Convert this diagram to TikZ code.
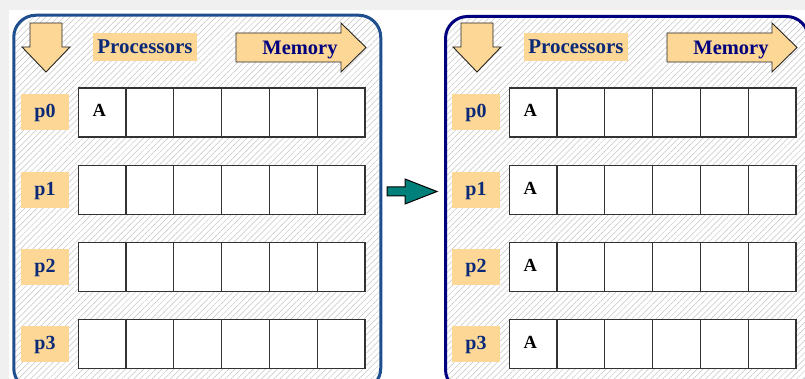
\documentclass[tikz,border=0pt]{standalone}
\usepackage{fontspec}
\setmainfont{Liberation Serif}
\usetikzlibrary{patterns.meta}
\definecolor{bggrey}{HTML}{F0F0F0}
\definecolor{lborder}{HTML}{1F4E8F}
\definecolor{rborder}{HTML}{00007F}
\definecolor{lorange}{HTML}{FDD796}
\definecolor{hatchgrey}{HTML}{C4C4C4}
\definecolor{txtblue}{HTML}{0A2A78}
\definecolor{tealfill}{HTML}{00807A}
\tikzset{
  panel/.style={draw=#1, line width=3pt, rounded corners=22pt,
    preaction={fill=white},
    pattern={Lines[angle=45,distance=4.3pt,line width=0.5pt]},
    pattern color=hatchgrey},
  cellbox/.style={draw=black!80, line width=1.2pt, fill=white,
    minimum width=47.8pt, minimum height=49pt, inner sep=0pt},
  plabel/.style={fill=lorange, minimum width=48pt, minimum height=36pt,
    inner sep=0pt, text=txtblue, text height=11pt, text depth=0pt,
    font=\bfseries\fontsize{20}{20}\selectfont},
  hlabel/.style={fill=lorange, minimum width=104pt, minimum height=28pt,
    inner sep=0pt, text=txtblue, text height=14pt, text depth=0pt,
    font=\bfseries\fontsize{21}{21}\selectfont},
  memtext/.style={text=rborder, inner sep=0pt, text height=15pt, text depth=0pt,
    font=\bfseries\fontsize{20.5}{20.5}\selectfont},
  atext/.style={font=\bfseries\fontsize{18.5}{18.5}\selectfont, anchor=west,
    inner sep=0pt, text height=9pt, text depth=0pt},
  blockarrow/.style={draw=black!85, line width=0.9pt, fill=lorange, line join=miter},
  tealarrow/.style={draw=black, line width=1pt, fill=tealfill, line join=miter},
}
\newcommand\drawpanel[3]{%
  % #1 prefix, #2 x offset, #3 list of rows holding A
  \begin{scope}[xshift=#2pt]
    \draw[blockarrow] (30,23) -- (62,23) -- (62,47) -- (70,47) -- (46,72)
      -- (22,47) -- (30,47) -- cycle;
    \node[hlabel] (#1-proc) at (145,47) {Processors};
    \draw[blockarrow] (236,33) -- (341,33) -- (341,23) -- (366,47.5)
      -- (341,72) -- (341,62) -- (236,62) -- cycle;
    \node[memtext] (#1-mem) at (300,47.5) {Memory};
    \foreach \r/\yc in {0/112.5,1/190,2/267,3/344}{
      \node[plabel] (#1-p\r) at (45,\yc) {p\r};
      \foreach \c in {0,...,5}{
        \node[cellbox] (#1-c\r-\c) at (102+47.8*\c,\yc) {};
      }
    }
    \foreach \r in {#3}{
      \node[atext] at ([xshift=15pt]#1-c\r-0.west) {A};
    }
  \end{scope}
}
\begin{document}
\begin{tikzpicture}[x=1pt,y=-1pt]
  \useasboundingbox (0,0) rectangle (805,379);
  \fill[bggrey] (0,0) rectangle (805,379);
  \fill[white] (9,10) rectangle (805,379);
  \node[panel=lborder, anchor=north west, minimum width=367pt,
    minimum height=375pt, inner sep=0pt] (LP) at (13.5,15) {};
  \node[panel=rborder, anchor=north west, minimum width=363pt,
    minimum height=375pt, inner sep=0pt] (RP) at (444,15) {};
  \drawpanel{L}{0}{0}
  \drawpanel{R}{431}{0,1,2,3}
  \draw[tealarrow] (387,187) -- (405,187) -- (405,179) -- (437,191.5)
    -- (405,204) -- (405,196) -- (387,196) -- cycle;
\end{tikzpicture}
\end{document}
